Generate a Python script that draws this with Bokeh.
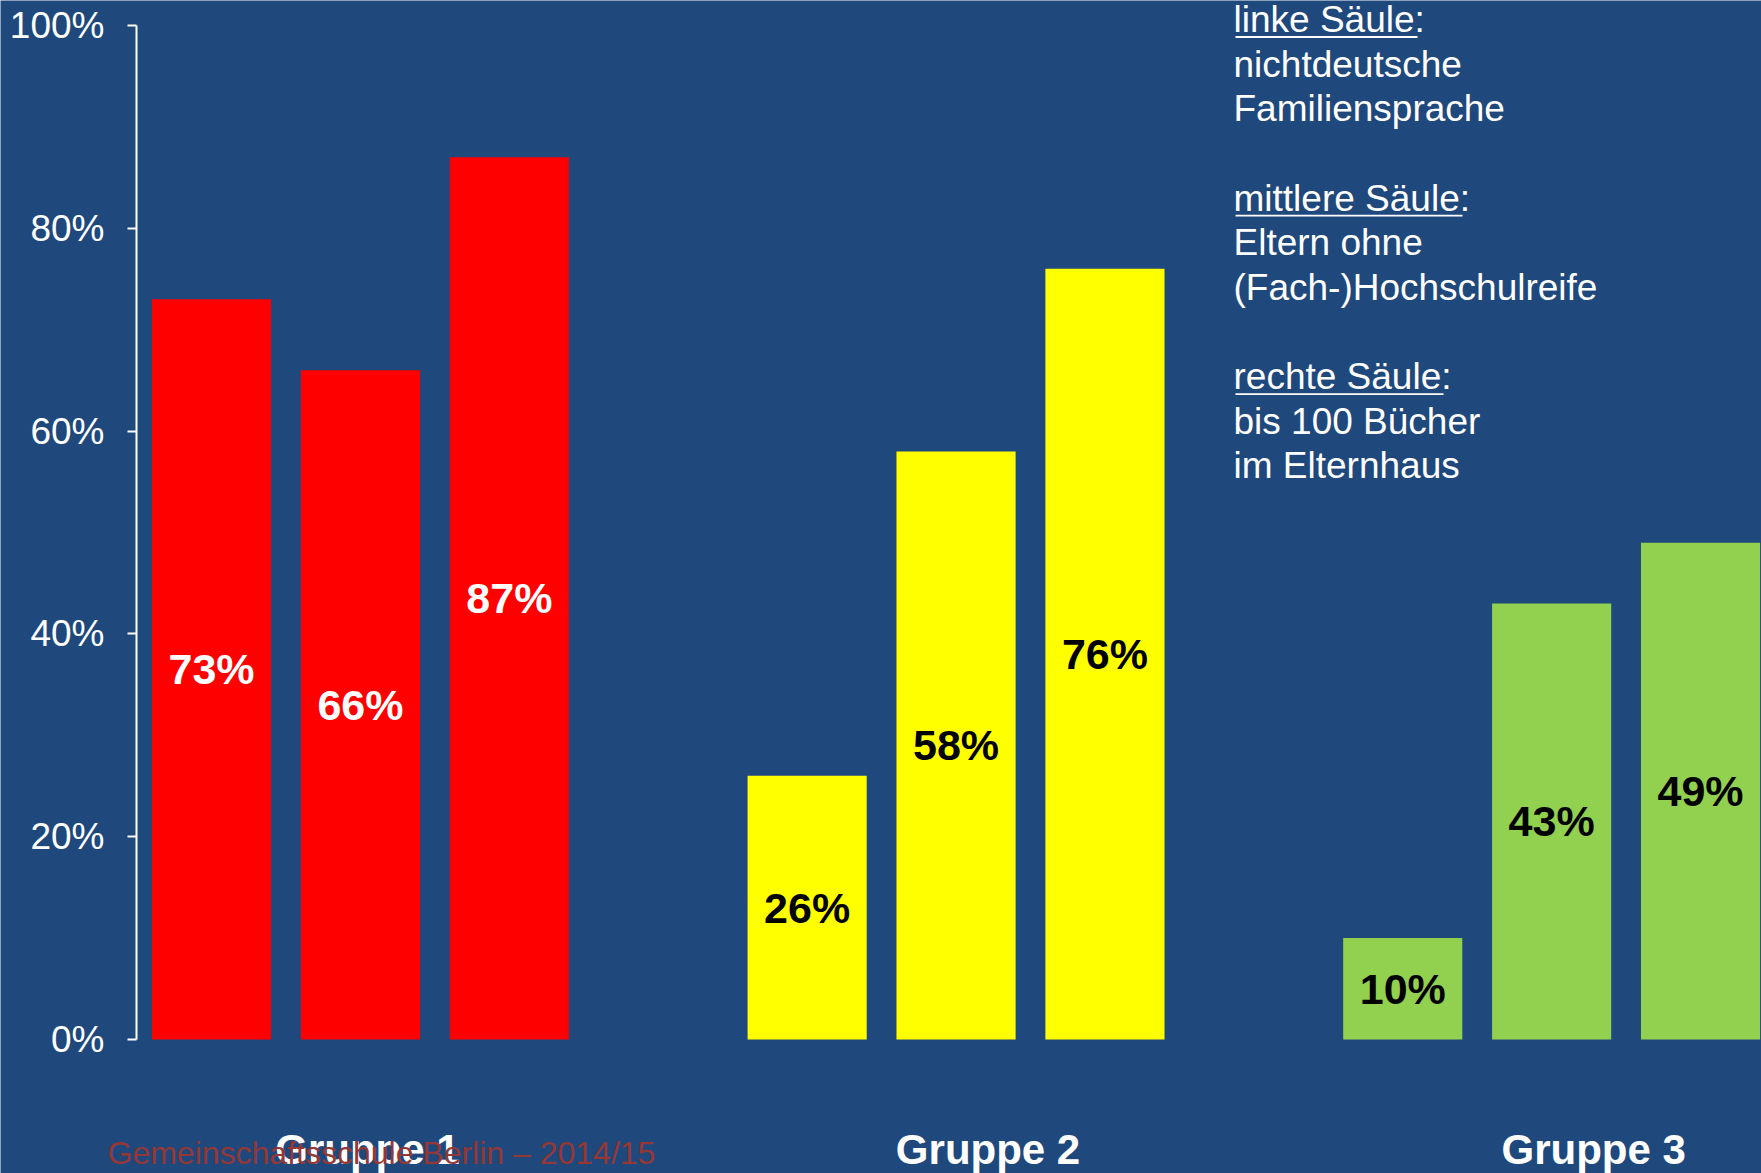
from bokeh.plotting import figure
from bokeh.models import Range1d, FixedTicker, PrintfTickFormatter, Label
from bokeh.core.properties import value
from bokeh.embed import file_html
from bokeh.resources import INLINE

# ---- data ----
groups = ["Gruppe 1", "Gruppe 2", "Gruppe 3"]
gruppe1 = [73, 66, 87]
gruppe2 = [26, 58, 76]
gruppe3 = [10, 43, 49]
group_colors = ["#FF0000", "#FFFF00", "#92D050"]
label_colors = ["#FFFFFF", "#000000", "#000000"]
y_ticks = [0, 20, 40, 60, 80, 100]
legend_lines = ["linke Säule:", "nichtdeutsche", "Familiensprache", "",
                "mittlere Säule:", "Eltern ohne", "(Fach-)Hochschulreife", "",
                "rechte Säule:", "bis 100 Bücher", "im Elternhaus"]
footer = "Gemeinschaftsschule Berlin – 2014/15"

BG = "#1F497D"
FONT = "Liberation Sans"

# ---- geometry (page pixels -> data units) ----
W, H = 1761, 1173
AXIS_PX = 136       # where the y axis line sits
KX = 148.9          # px per x unit
KY = 10.14          # px per percent
X0 = -0.504 - AXIS_PX / KX
X1 = X0 + W / KX
YT = 100 + 25 / KY
YB = YT - H / KY

def x_at(px):
    return X0 + px / KX

def y_at(py):
    return YT - py / KY

p = figure(width=W, height=H, output_backend="svg", toolbar_location=None,
           x_range=Range1d(X0, X1), y_range=Range1d(YB, YT),
           x_axis_type=None, min_border_left=0, min_border_right=0,
           min_border_top=0, min_border_bottom=0)
p.background_fill_color = BG
p.border_fill_color = BG
p.outline_line_color = None
p.grid.visible = False

series = [gruppe1, gruppe2, gruppe3]
xs, tops, cols, lx, ly, lt, lc = [], [], [], [], [], [], []
for gi, vals in enumerate(series):
    center = 1 + 4 * gi
    for bi, v in enumerate(vals):
        x = center + (bi - 1)
        xs.append(x); tops.append(v); cols.append(group_colors[gi])
        lx.append(x); ly.append(v / 2); lt.append(f"{v}%"); lc.append(label_colors[gi])

p.vbar(x=xs, top=tops, bottom=0, width=0.8, color=cols, line_color=None)
p.text(x=lx, y=ly, text=lt, text_color=lc, text_align="center", text_baseline="middle",
       text_font=value(FONT), text_font_style="bold", text_font_size="43px")

# group labels (baseline ~1164 px -> middle anchor)
label_dx = [7, 32, 42]
gx = [1 + 4 * i + label_dx[i] / KX for i in range(3)]
p.text(x=gx, y=[y_at(1164 - 0.3465 * 42)] * 3, text=groups, text_color="#FFFFFF",
       text_align="center", text_baseline="middle", text_font=value(FONT),
       text_font_style="bold", text_font_size="42px")

# footer, drawn over the group label as in the original slide
p.add_layout(Label(x=x_at(107), y=y_at(1164 - 0.3465 * 32), text=footer,
                   text_color="#953735", text_font=FONT, text_font_size="32px",
                   text_align="left", text_baseline="middle"))

# legend text
LFS = 37
base0 = 31.5
lh = 44.65
n = len(legend_lines)
p.text(x=[x_at(1233)] * n, y=[y_at(base0 + i * lh - 0.34 * LFS) for i in range(n)],
       text=legend_lines, text_color="#FFFFFF", text_align="left", text_baseline="middle",
       text_font=value(FONT), text_font_size=f"{LFS}px")
ul_idx = [0, 4, 8]
ul_w = [182, 227, 208]
p.segment(x0=[x_at(1235)] * 3, x1=[x_at(1235 + w) for w in ul_w],
          y0=[y_at(base0 + i * lh + 5) for i in ul_idx],
          y1=[y_at(base0 + i * lh + 5) for i in ul_idx],
          line_color="#FFFFFF", line_width=1.8)

# y axis, fixed at its place inside the frame
ax = p.yaxis[0]
ax.fixed_location = x_at(AXIS_PX)
ax.ticker = FixedTicker(ticks=y_ticks)
ax.formatter = PrintfTickFormatter(format="%d%%")
ax.bounds = (0, 100)
ax.axis_line_color = "#FFFFFF"
ax.axis_line_width = 2
ax.major_tick_line_color = "#FFFFFF"
ax.major_tick_line_width = 2
ax.major_tick_out = 9
ax.major_tick_in = 0
ax.minor_tick_line_color = None
ax.major_label_standoff = 23
ax.major_label_text_color = "#FFFFFF"
ax.major_label_text_font = FONT
ax.major_label_text_font_size = "37px"

open("out.html", "w").write(file_html(p, INLINE))
